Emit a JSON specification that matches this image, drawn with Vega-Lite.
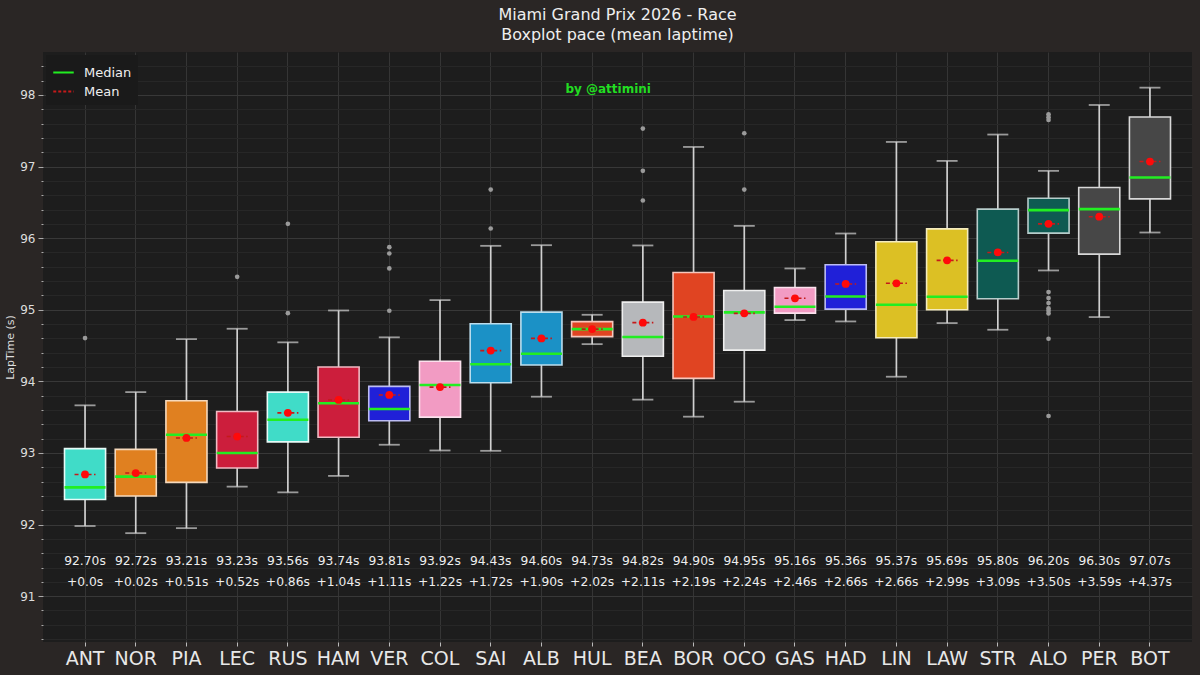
{
  "$schema": "https://vega.github.io/schema/vega-lite/v6.json",
  "description": "Miami GP 2026 race pace boxplot",
  "width": 1149,
  "height": 590,
  "autosize": {"type": "none"},
  "padding": {"left": 43, "top": 52, "right": 8, "bottom": 33},
  "background": "#2a2625",
  "title": {
    "text": ["Miami Grand Prix 2026 - Race", "Boxplot pace (mean laptime)"],
    "fontSize": 16,
    "fontWeight": "normal",
    "font": "DejaVu Sans",
    "color": "#eeeeee",
    "lineHeight": 20,
    "offset": 9,
    "anchor": "middle"
  },
  "datasets": {
    "stats": [
      {"driver": "ANT", "lo": 91.98, "q1": 92.35, "med": 92.52, "q3": 93.06, "hi": 93.665, "mean": 92.70, "meanLabel": "92.70s", "delta": "+0.0s"},
      {"driver": "NOR", "lo": 91.88, "q1": 92.40, "med": 92.67, "q3": 93.05, "hi": 93.85, "mean": 92.72, "meanLabel": "92.72s", "delta": "+0.02s"},
      {"driver": "PIA", "lo": 91.95, "q1": 92.59, "med": 93.255, "q3": 93.73, "hi": 94.59, "mean": 93.21, "meanLabel": "93.21s", "delta": "+0.51s"},
      {"driver": "LEC", "lo": 92.53, "q1": 92.79, "med": 93.0, "q3": 93.58, "hi": 94.735, "mean": 93.23, "meanLabel": "93.23s", "delta": "+0.52s"},
      {"driver": "RUS", "lo": 92.45, "q1": 93.155, "med": 93.465, "q3": 93.85, "hi": 94.545, "mean": 93.56, "meanLabel": "93.56s", "delta": "+0.86s"},
      {"driver": "HAM", "lo": 92.68, "q1": 93.22, "med": 93.695, "q3": 94.2, "hi": 94.99, "mean": 93.74, "meanLabel": "93.74s", "delta": "+1.04s"},
      {"driver": "VER", "lo": 93.115, "q1": 93.45, "med": 93.615, "q3": 93.93, "hi": 94.615, "mean": 93.81, "meanLabel": "93.81s", "delta": "+1.11s"},
      {"driver": "COL", "lo": 93.035, "q1": 93.50, "med": 93.95, "q3": 94.28, "hi": 95.135, "mean": 93.92, "meanLabel": "93.92s", "delta": "+1.22s"},
      {"driver": "SAI", "lo": 93.03, "q1": 93.98, "med": 94.24, "q3": 94.805, "hi": 95.893, "mean": 94.43, "meanLabel": "94.43s", "delta": "+1.72s"},
      {"driver": "ALB", "lo": 93.786, "q1": 94.228, "med": 94.386, "q3": 94.967, "hi": 95.902, "mean": 94.60, "meanLabel": "94.60s", "delta": "+1.90s"},
      {"driver": "HUL", "lo": 94.52, "q1": 94.625, "med": 94.73, "q3": 94.835, "hi": 94.93, "mean": 94.73, "meanLabel": "94.73s", "delta": "+2.02s"},
      {"driver": "BEA", "lo": 93.745, "q1": 94.35, "med": 94.62, "q3": 95.107, "hi": 95.898, "mean": 94.82, "meanLabel": "94.82s", "delta": "+2.11s"},
      {"driver": "BOR", "lo": 93.507, "q1": 94.042, "med": 94.907, "q3": 95.521, "hi": 97.274, "mean": 94.90, "meanLabel": "94.90s", "delta": "+2.19s"},
      {"driver": "OCO", "lo": 93.716, "q1": 94.437, "med": 94.963, "q3": 95.27, "hi": 96.172, "mean": 94.95, "meanLabel": "94.95s", "delta": "+2.24s"},
      {"driver": "GAS", "lo": 94.856, "q1": 94.953, "med": 95.042, "q3": 95.312, "hi": 95.577, "mean": 95.16, "meanLabel": "95.16s", "delta": "+2.46s"},
      {"driver": "HAD", "lo": 94.837, "q1": 95.009, "med": 95.186, "q3": 95.628, "hi": 96.065, "mean": 95.36, "meanLabel": "95.36s", "delta": "+2.66s"},
      {"driver": "LIN", "lo": 94.065, "q1": 94.609, "med": 95.07, "q3": 95.949, "hi": 97.344, "mean": 95.37, "meanLabel": "95.37s", "delta": "+2.66s"},
      {"driver": "LAW", "lo": 94.814, "q1": 95.0, "med": 95.181, "q3": 96.13, "hi": 97.079, "mean": 95.69, "meanLabel": "95.69s", "delta": "+2.99s"},
      {"driver": "STR", "lo": 94.721, "q1": 95.153, "med": 95.684, "q3": 96.405, "hi": 97.447, "mean": 95.80, "meanLabel": "95.80s", "delta": "+3.09s"},
      {"driver": "ALO", "lo": 95.549, "q1": 96.07, "med": 96.391, "q3": 96.558, "hi": 96.94, "mean": 96.20, "meanLabel": "96.20s", "delta": "+3.50s"},
      {"driver": "PER", "lo": 94.898, "q1": 95.777, "med": 96.405, "q3": 96.707, "hi": 97.86, "mean": 96.30, "meanLabel": "96.30s", "delta": "+3.59s"},
      {"driver": "BOT", "lo": 96.079, "q1": 96.549, "med": 96.847, "q3": 97.693, "hi": 98.102, "mean": 97.07, "meanLabel": "97.07s", "delta": "+4.37s"}
    ],
    "outliers": [
      {"driver": "ANT", "lap": 94.605},
      {"driver": "LEC", "lap": 95.46},
      {"driver": "RUS", "lap": 96.2},
      {"driver": "RUS", "lap": 94.953},
      {"driver": "VER", "lap": 95.874},
      {"driver": "VER", "lap": 95.786},
      {"driver": "VER", "lap": 95.577},
      {"driver": "VER", "lap": 94.986},
      {"driver": "SAI", "lap": 96.679},
      {"driver": "SAI", "lap": 96.135},
      {"driver": "BEA", "lap": 97.53},
      {"driver": "BEA", "lap": 96.94},
      {"driver": "BEA", "lap": 96.526},
      {"driver": "OCO", "lap": 97.465},
      {"driver": "OCO", "lap": 96.679},
      {"driver": "ALO", "lap": 97.73},
      {"driver": "ALO", "lap": 97.69},
      {"driver": "ALO", "lap": 97.65},
      {"driver": "ALO", "lap": 95.247},
      {"driver": "ALO", "lap": 95.163},
      {"driver": "ALO", "lap": 95.093},
      {"driver": "ALO", "lap": 95.019},
      {"driver": "ALO", "lap": 94.986},
      {"driver": "ALO", "lap": 94.949},
      {"driver": "ALO", "lap": 94.595},
      {"driver": "ALO", "lap": 93.516}
    ],
    "note": [{"text": "by @attimini"}]
  },
  "data": {"name": "stats"},
  "encoding": {
    "x": {
      "field": "driver",
      "type": "nominal",
      "sort": null,
      "scale": {
        "type": "band",
        "domain": ["ANT", "NOR", "PIA", "LEC", "RUS", "HAM", "VER", "COL", "SAI", "ALB", "HUL", "BEA", "BOR", "OCO", "GAS", "HAD", "LIN", "LAW", "STR", "ALO", "PER", "BOT"],
        "paddingInner": 0.19,
        "paddingOuter": 0.424
      },
      "axis": {
        "title": null,
        "labelAngle": 0,
        "labelFontSize": 19,
        "labelColor": "#e8e8e8",
        "labelPadding": 3,
        "tickSize": 4,
        "tickColor": "#bbbbbb",
        "domain": false,
        "grid": true,
        "gridColor": "#353535",
        "bandPosition": 0.5
      }
    }
  },
  "layer": [
    {
      "mark": {"type": "rule", "color": "#d0d0d0", "strokeWidth": 1.7},
      "encoding": {
        "y": {
          "field": "lo",
          "type": "quantitative",
          "scale": {"domain": [90.36, 98.6], "nice": false, "zero": false},
          "axis": {
            "title": "LapTime (s)",
            "titleFontSize": 11,
            "titleFontWeight": "normal",
            "titleColor": "#dddddd",
            "titlePadding": 4,
            "values": [90.4, 90.6, 90.8, 91, 91.2, 91.4, 91.6, 91.8, 92, 92.2, 92.4, 92.6, 92.8, 93, 93.2, 93.4, 93.6, 93.8, 94, 94.2, 94.4, 94.6, 94.8, 95, 95.2, 95.4, 95.6, 95.8, 96, 96.2, 96.4, 96.6, 96.8, 97, 97.2, 97.4, 97.6, 97.8, 98, 98.2, 98.4],
            "tickCount": 60,
            "labelExpr": "abs(datum.value - round(datum.value)) < 0.01 ? format(datum.value, 'd') : ''",
            "labelOverlap": false,
            "labelFontSize": 12,
            "labelColor": "#dddddd",
            "labelPadding": 3,
            "tickColor": "#aaaaaa",
            "tickSize": {"condition": {"test": "abs(datum.value - round(datum.value)) < 0.01", "value": 5}, "value": 2},
            "domain": false,
            "grid": true,
            "gridColor": {"condition": {"test": "abs(datum.value - round(datum.value)) < 0.01", "value": "#383838"}, "value": "#272727"}
          }
        },
        "y2": {"field": "hi"}
      }
    },
    {
      "mark": {"type": "tick", "color": "#d0d0d0", "size": 21, "thickness": 1.8},
      "encoding": {"y": {"field": "lo", "type": "quantitative"}}
    },
    {
      "mark": {"type": "tick", "color": "#d0d0d0", "size": 21, "thickness": 1.8},
      "encoding": {"y": {"field": "hi", "type": "quantitative"}}
    },
    {
      "mark": {"type": "bar", "strokeWidth": 1.6, "fillOpacity": 1},
      "encoding": {
        "y": {"field": "q1", "type": "quantitative"},
        "y2": {"field": "q3"},
        "fill": {
          "field": "driver",
          "type": "nominal",
          "legend": null,
          "scale": {
            "domain": ["ANT", "NOR", "PIA", "LEC", "RUS", "HAM", "VER", "COL", "SAI", "ALB", "HUL", "BEA", "BOR", "OCO", "GAS", "HAD", "LIN", "LAW", "STR", "ALO", "PER", "BOT"],
            "range": ["#40dcc8", "#e08020", "#e08020", "#cc1e3c", "#40dcc8", "#cc1e3c", "#2020d8", "#f29bc3", "#1b91c6", "#1b91c6", "#e04422", "#b6b8bb", "#e04422", "#b6b8bb", "#f29bc3", "#2020d8", "#dcc024", "#dcc024", "#0e5a52", "#0e5a52", "#474747", "#474747"]
          }
        },
        "stroke": {
          "field": "driver",
          "type": "nominal",
          "legend": null,
          "scale": {
            "domain": ["ANT", "NOR", "PIA", "LEC", "RUS", "HAM", "VER", "COL", "SAI", "ALB", "HUL", "BEA", "BOR", "OCO", "GAS", "HAD", "LIN", "LAW", "STR", "ALO", "PER", "BOT"],
            "range": ["#e6fbf8", "#f6d9bc", "#f6d9bc", "#f0bbc4", "#e6fbf8", "#f0bbc4", "#bcbcf3", "#fbe1ed", "#bbdeee", "#bbdeee", "#f6c7bd", "#eeeeee", "#f6c7bd", "#eeeeee", "#fbe1ed", "#bcbcf3", "#f5ecbd", "#f5ecbd", "#b7cdcb", "#b7cdcb", "#d8d8d8", "#d8d8d8"]
          }
        }
      }
    },
    {
      "mark": {"type": "rule", "strokeWidth": 2.6, "xOffset": -20.5, "x2Offset": 20.5},
      "encoding": {
        "x2": {"field": "driver"},
        "y": {"field": "med", "type": "quantitative"},
        "color": {
          "datum": "Median",
          "type": "nominal",
          "scale": {"domain": ["Median", "Mean"], "range": ["#22ee22", "#c41a1a"]},
          "legend": {
            "title": null,
            "orient": "top-left",
            "offset": 3,
            "symbolType": "stroke",
            "symbolSize": 420,
            "symbolStrokeWidth": 2,
            "labelColor": "#eeeeee",
            "labelFontSize": 13,
            "labelFont": "DejaVu Sans",
            "labelOffset": 9,
            "fillColor": "#1a1a1a",
            "padding": 6,
            "rowPadding": 0,
            "encode": {
              "symbols": {
                "update": {
                  "strokeDash": {"signal": "datum.value === 'Mean' ? [3, 2] : [1, 0]"}
                }
              }
            }
          }
        }
      }
    },
    {
      "mark": {"type": "rule", "strokeWidth": 1.6, "strokeDash": [4, 2.5], "xOffset": -10.5, "x2Offset": 10.5},
      "encoding": {
        "x2": {"field": "driver"},
        "y": {"field": "mean", "type": "quantitative"},
        "color": {"datum": "Mean", "type": "nominal"}
      }
    },
    {
      "mark": {"type": "point", "filled": true, "color": "#ff0a0a", "opacity": 1, "size": 60},
      "encoding": {"y": {"field": "mean", "type": "quantitative"}}
    },
    {
      "data": {"name": "outliers"},
      "mark": {"type": "point", "filled": true, "color": "#9a9a9a", "opacity": 1, "size": 22},
      "encoding": {"y": {"field": "lap", "type": "quantitative"}}
    },
    {
      "mark": {"type": "text", "color": "#eeeeee", "fontSize": 12.3, "font": "DejaVu Sans"},
      "encoding": {
        "y": {"datum": 91.49, "type": "quantitative"},
        "text": {"field": "meanLabel"}
      }
    },
    {
      "mark": {"type": "text", "color": "#eeeeee", "fontSize": 12.3, "font": "DejaVu Sans"},
      "encoding": {
        "y": {"datum": 91.2, "type": "quantitative"},
        "text": {"field": "delta"}
      }
    },
    {
      "data": {"name": "note"},
      "mark": {"type": "text", "color": "#22dd22", "fontSize": 12, "fontWeight": "bold", "font": "DejaVu Sans", "xOffset": 16},
      "encoding": {
        "x": {"datum": "HUL"},
        "y": {"datum": 98.08, "type": "quantitative"},
        "text": {"field": "text"}
      }
    }
  ],
  "config": {
    "font": "DejaVu Sans",
    "view": {"fill": "#1d1d1d", "stroke": null},
    "axis": {"labelFont": "DejaVu Sans", "titleFont": "DejaVu Sans"}
  }
}
